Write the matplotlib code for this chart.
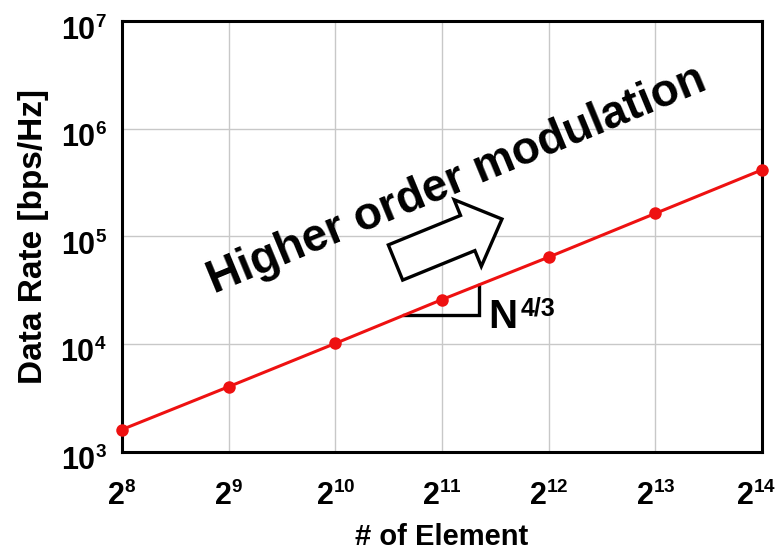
import numpy as np
import matplotlib
matplotlib.use("Agg")
import matplotlib.pyplot as plt
import matplotlib._mathtext as _mt
from matplotlib.patches import Polygon
from matplotlib.ticker import FixedLocator, NullLocator
from matplotlib.transforms import ScaledTranslation

_mt.SHRINK_FACTOR = 0.62

plt.rcParams['font.family'] = ['Liberation Sans', 'DejaVu Sans']
plt.rcParams['mathtext.fontset'] = 'custom'
plt.rcParams['mathtext.rm'] = 'Liberation Sans:bold'
plt.rcParams['mathtext.bf'] = 'Liberation Sans:bold'
plt.rcParams['mathtext.it'] = 'Liberation Sans:bold'

# ---- data ----
exponents = [8, 9, 10, 11, 12, 13, 14]
elements = [2 ** e for e in exponents]
data_rate = [1600, 4000, 10100, 25800, 64000, 163000, 414000]
y_exps = [3, 4, 5, 6, 7]
x_tick_labels = [r'$\mathbf{2^{%d}}$' % e for e in exponents]
y_tick_labels = [r'$\mathbf{10^{%d}}$' % e for e in y_exps]

W, H = 782, 554
fig = plt.figure(figsize=(W / 100, H / 100), dpi=100)
L, R, T, B = 122, 762, 21, 451.5
ax = fig.add_axes([L / W, 1 - B / H, (R - L) / W, (B - T) / H])

ax.set_xscale('log', base=2)
ax.set_yscale('log')
ax.set_xlim(elements[0], elements[-1])
ax.set_ylim(10 ** y_exps[0], 10 ** y_exps[-1])

ax.plot(elements, data_rate, color='#ee1111', lw=2.2, marker='o', ms=9,
        markeredgewidth=0, zorder=5, clip_on=False)

ax.xaxis.set_major_locator(FixedLocator(elements))
ax.xaxis.set_minor_locator(NullLocator())
ax.yaxis.set_major_locator(FixedLocator([10 ** e for e in y_exps]))
ax.yaxis.set_minor_locator(NullLocator())
ax.set_xticklabels(x_tick_labels, fontsize=22)
ax.set_yticklabels(y_tick_labels, fontsize=22)
ax.tick_params(axis='x', length=0, pad=22)
ax.tick_params(axis='y', length=0, pad=11)
ax.grid(True, color='#c8c8c8', lw=1.0)
for s in ax.spines.values():
    s.set_linewidth(2.2)
    s.set_color('black')

for lab in ax.get_yticklabels():
    lab.set_transform(lab.get_transform() +
                      ScaledTranslation(0, -7 / 100, fig.dpi_scale_trans))
xl = ax.get_xticklabels()
xl[-1].set_transform(xl[-1].get_transform() +
                     ScaledTranslation(-6 / 100, 0, fig.dpi_scale_trans))

ax.set_xlabel('# of Element', fontsize=21, fontweight='bold', labelpad=8)
ax.set_ylabel('Data Rate [bps/Hz]', fontsize=24, fontweight='bold', labelpad=8)

# slope triangle (on the data line)
lx = np.log2(elements)
ly = np.log10(data_rate)
x1, x2 = 10.64, 11.35
y1 = 10 ** np.interp(x1, lx, ly)
y2 = 10 ** np.interp(x2, lx, ly)
ax.plot([2 ** x1, 2 ** x2, 2 ** x2], [y1, y1, y2], color='black', lw=2.4,
        zorder=4, solid_joinstyle='miter')

# N^{4/3}
fig.text(488 / W, 1 - 328 / H, 'N', fontsize=29, fontweight='bold',
         ha='left', va='baseline')
fig.text(521 / W, 1 - 316 / H, '4/3', fontsize=18, fontweight='bold',
         ha='left', va='baseline')

# Higher order modulation text
fig.text(457 / W, 1 - 180 / H, 'Higher order modulation', fontsize=33,
         fontweight='bold', rotation=22.5, rotation_mode='anchor',
         ha='center', va='center')

# block arrow (pixel geometry, image y-down)
C0 = np.array([395.5, 262.5])
ang = np.deg2rad(22.2)
u = np.array([np.cos(ang), -np.sin(ang)])
n = np.array([np.sin(ang), np.cos(ang)])
local = [(0, -19), (78, -19), (78, -36), (115, 0), (78, 36), (78, 19), (0, 19)]
pts = []
for s_, t_ in local:
    p = C0 + s_ * u + t_ * n
    pts.append((p[0] / W, 1 - p[1] / H))
fig.patches.append(Polygon(pts, closed=True, facecolor='white',
                           edgecolor='black', lw=2.4, joinstyle='miter',
                           transform=fig.transFigure, zorder=10))

fig.savefig('out.png', dpi=100)
